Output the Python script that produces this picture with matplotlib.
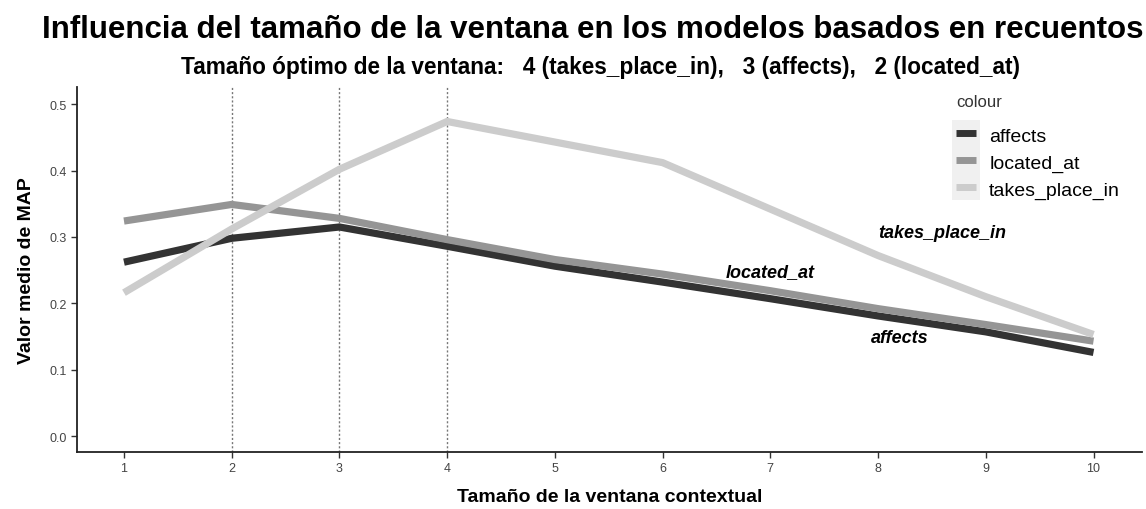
import matplotlib.pyplot as plt
from matplotlib.patches import Rectangle

plt.rcParams['font.family'] = ['Liberation Sans', 'DejaVu Sans']

# window sizes and mean MAP per relation
window = [1, 2, 3, 4, 5, 6, 7, 8, 9, 10]
affects = [0.262, 0.298, 0.315, 0.286, 0.256, 0.232, 0.207, 0.181, 0.157, 0.126]
located_at = [0.324, 0.349, 0.328, 0.296, 0.266, 0.244, 0.219, 0.192, 0.168, 0.143]
takes_place_in = [0.216, 0.312, 0.402, 0.474, 0.443, 0.412, 0.342, 0.272, 0.210, 0.153]
optimal = [2, 3, 4]

series = [('affects', affects, '#333333'),
          ('located_at', located_at, '#959595'),
          ('takes_place_in', takes_place_in, '#cccccc')]

fig = plt.figure(figsize=(11.46, 5.10), dpi=100)
ax = fig.add_axes([0.0672, 0.1118, 0.9293, 0.7157])

for x in optimal:
    ax.axvline(x, color='#777777', linestyle=(0, (1.5, 1.5)), linewidth=1.0, zorder=1)

for name, vals, col in series:
    ax.plot(window, vals, color=col, linewidth=5.2, label=name, zorder=2,
            solid_capstyle='butt', solid_joinstyle='round')

# direct labels on the lines
ax.text(8.6, 0.307, 'takes_place_in', fontsize=13, fontweight='bold', style='italic', ha='center', va='center')
ax.text(7.0, 0.248, 'located_at', fontsize=13, fontweight='bold', style='italic', ha='center', va='center')
ax.text(8.2, 0.149, 'affects', fontsize=13, fontweight='bold', style='italic', ha='center', va='center')

ax.set_xlim(0.564, 10.45)
ax.set_ylim(-0.024, 0.526)
ax.set_xticks(window)
ax.set_yticks([0.0, 0.1, 0.2, 0.3, 0.4, 0.5])
ax.set_yticklabels(['0.0', '0.1', '0.2', '0.3', '0.4', '0.5'])
ax.tick_params(labelsize=9, colors='#333333', length=4, width=1)
ax.tick_params(labelcolor='#444444')
for s in ['top', 'right']:
    ax.spines[s].set_visible(False)
for s in ['left', 'bottom']:
    ax.spines[s].set_linewidth(1.3)
    ax.spines[s].set_color('#222222')

ax.set_xlabel('Tamaño de la ventana contextual', fontsize=14, fontweight='bold', labelpad=10)
ax.set_ylabel('Valor medio de MAP', fontsize=14, fontweight='bold', labelpad=10)

fig.text(0.517, 0.941, 'Influencia del tamaño de la ventana en los modelos basados en recuentos',
         fontsize=22.5, fontweight='bold', ha='center', va='center')
fig.text(0.524, 0.867, 'Tamaño óptimo de la ventana:   4 (takes_place_in),   3 (affects),   2 (located_at)',
         fontsize=16.3, fontweight='bold', ha='center', va='center')

leg = ax.legend(loc='upper left', bbox_to_anchor=(0.8145, 1.013), frameon=False, title='colour',
                fontsize=14, title_fontsize=12, handlelength=1.0, handleheight=1.0,
                labelspacing=0.38, handletextpad=0.7, borderaxespad=0, borderpad=0.6)
leg._legend_box.align = 'left'
leg._legend_box.sep = 12
leg.get_title().set_color('#333333')
for h in leg.get_lines():
    h.set_linewidth(5)

# light grey key background like ggplot
fig.canvas.draw()
boxes = [h.get_window_extent() for h in leg.get_lines()]
x0 = min(b.x0 for b in boxes) - 4
x1 = max(b.x1 for b in boxes) + 4
ys = [(b.y0 + b.y1) / 2 for b in boxes]
step = abs(ys[0] - ys[1])
y0 = min(ys) - step / 2
y1 = max(ys) + step / 2
W, H = fig.bbox.width, fig.bbox.height
ax.add_patch(Rectangle((x0 / W, y0 / H), (x1 - x0) / W, (y1 - y0) / H,
                       transform=fig.transFigure, facecolor='#f0f0f0',
                       edgecolor='none', zorder=0.5, clip_on=False))

fig.savefig('out.png', dpi=100)
